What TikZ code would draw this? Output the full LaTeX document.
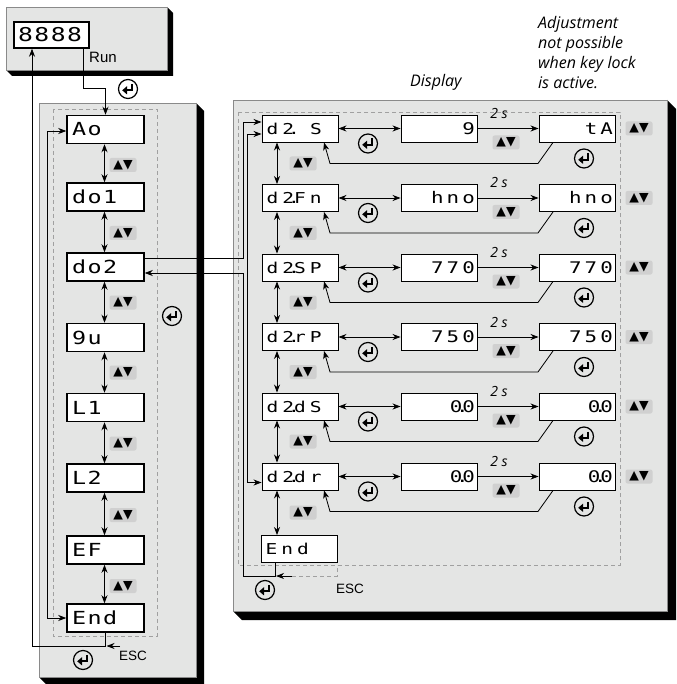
\documentclass[tikz,border=0pt]{standalone}
\usepackage{fontspec}
\usetikzlibrary{arrows.meta}
\setmainfont{Liberation Sans}
\newfontfamily\notefont{Open Sans}
\newfontfamily\symfont{DejaVu Sans}
\newfontfamily\segL[FakeStretch=1.3,LetterSpace=8]{DejaVu Sans Mono}
\newfontfamily\segR[FakeStretch=1.3,LetterSpace=20]{DejaVu Sans Mono}
\newfontfamily\segD[FakeStretch=1.3,LetterSpace=27]{DejaVu Sans Mono}
\newcommand\sdot{\makebox[0pt]{.}}
\newcommand\segsp{\hspace*{16pt}}
\definecolor{panel}{HTML}{E4E5E4}
\definecolor{panelrim}{HTML}{8A8A8A}
\definecolor{keybg}{HTML}{D0D0D0}
\definecolor{dashc}{HTML}{A0A0A0}
\tikzset{
  arr/.style={-{Stealth[length=8pt,width=6pt,inset=2.5pt]}, line width=0.8pt},
  arr2/.style={{Stealth[length=8pt,width=6pt,inset=2.5pt]}-{Stealth[length=8pt,width=6pt,inset=2.5pt]}, line width=0.8pt},
  lbox/.style={draw, line width=1.5pt, fill=white, minimum height=28pt, text width=67pt, inner xsep=5pt, inner ysep=0pt, align=left, font=\segL\fontsize{18}{18}\selectfont},
  dbox/.style={draw, line width=1.4pt, fill=white, minimum height=26pt, text width=67pt, inner xsep=4pt, inner ysep=0pt, align=left, font=\segL\fontsize{19}{19}\selectfont},
  rbox/.style={draw, line width=0.9pt, fill=white, minimum height=27pt, text width=67pt, inner xsep=4.5pt, inner ysep=0pt, align=left, font=\segD\fontsize{15}{15}\selectfont},
  vbox/.style={draw, line width=0.9pt, fill=white, minimum height=27pt, text width=72pt, inner xsep=2pt, inner ysep=0pt, align=right, font=\segR\fontsize{16}{16}\selectfont},
  keylab/.style={fill=keybg, rounded corners=2pt, minimum width=27pt, minimum height=14pt, inner sep=0pt, font=\symfont\fontsize{12.5}{12.5}\selectfont},
  twos/.style={font=\notefont\itshape\fontsize{14}{14}\selectfont, inner sep=0pt},
  note/.style={font=\notefont\itshape\fontsize{16}{20}\selectfont, inner sep=0pt},
  plain/.style={inner sep=0pt},
  dashbox/.style={draw=dashc, line width=0.7pt, dash pattern=on 4pt off 3pt},
  enterkey/.pic={
    \draw[line width=1.2pt] (0,0) circle (9.5);
    \draw[line width=2pt] (3.5,-5) -- (3.5,1.3) -- (-1.5,1.3);
    \fill (-5.8,1.3) -- (-1,-2.8) -- (-1,5.4) -- cycle;
  }
}
\begin{document}
\begin{tikzpicture}[x=1pt,y=-1pt]
\useasboundingbox (0,0) rectangle (676,684);
% ---------- panels ----------
\fill (167,7) -- (173,13) -- (173,76) -- (12,76) -- (6,70) -- (167,70) -- cycle;
\draw[panelrim, fill=panel, line width=0.6pt] (6,7) rectangle (167,70);
\fill (196,103) -- (204,111) -- (204,685) -- (47,685) -- (39,677) -- (196,677) -- cycle;
\draw[panelrim, fill=panel, line width=0.6pt] (39,103) rectangle (196,677);
\fill (667,100) -- (676,109) -- (676,620) -- (242,620) -- (233,611) -- (667,611) -- cycle;
\draw[panelrim, fill=panel, line width=0.6pt] (233,100) rectangle (667,611);
% dashed groups
\draw[dashbox] (53,109) rectangle (157,636);
\draw[dashbox] (238,112) rectangle (620,565);
\draw[dashbox] (285,576) -- (337,576) -- (337,565);
% ---------- texts at top ----------
\node[note, anchor=north west, align=left] (adj) at (538,16) {Adjustment\\not possible\\when key lock\\is active.};
\node[note, anchor=base west] (displ) at (410,87) {Display};
% ---------- top display ----------
\node[dbox] (disp) at (51.5,35) {8888};
\node[plain, anchor=base west, font=\fontsize{15}{15}\selectfont] (run) at (89,63) {Run};
% ---------- left column ----------
\foreach \nm/\yc/\tx in {ao/129.5/Ao, do1/197/do1, do2/267/do2, qu/337.5/9u, l1/407.5/L1, l2/478/L2, ef/550/EF, endL/618/End}
  {\node[lbox] (\nm) at (105.5,\yc) {\tx};}
\foreach \a/\b/\ym in {ao/do1/165, do1/do2/233, do2/qu/302.5, qu/l1/372.5, l1/l2/443.5, l2/ef/515, ef/endL/586}
  {\draw[arr2] ([xshift=-1pt]\a.south) -- ([xshift=-1pt]\b.north);
   \node[keylab] (k\a) at (123,\ym) {▲▼};}
% top connector into Ao
\coordinate (c1) at (83,88);
\draw[arr] (disp.south -| c1) -- (c1) -- (c1 -| ao.north) -- (ao.north);
\pic at (128,89) {enterkey};
\pic at (172,316) {enterkey};
% loop Ao <-> End
\coordinate (lx) at (47,0);
\draw[arr2] ([yshift=-1.5pt]ao.west) -- ([yshift=-1.5pt]ao.west -| lx) -- (endL.west -| lx) -- (endL.west);
% return to display
\coordinate (r1) at (105.5,646);
\coordinate (r2) at (32,646);
\draw[arr] (endL.south) -- (r1) -- (r2) -- (r2 |- disp.south);
\coordinate (escL) at (120,646);
\draw[arr] (escL) -- ([xshift=1pt]r1);
\node[plain, anchor=base west, font=\fontsize{13.5}{13.5}\selectfont] (esc1) at (119,660) {ESC};
\pic at (83,660) {enterkey};
% ---------- right panel rows ----------
\foreach \n/\yc/\lab/\mv/\rv in {
  1/128.5/{d2\sdot\segsp S}/9/tA,
  2/198/{d2\sdot Fn}/hno/hno,
  3/267.5/{d2\sdot SP}/770/770,
  4/337/{d2\sdot rP}/750/750,
  5/406.5/{d2\sdot dS}/{0\sdot0}/{0\sdot0},
  6/476.5/{d2\sdot dr}/{0\sdot0}/{0\sdot0}}
{
  \node[rbox] (d\n) at (300,\yc) {\lab};
  \node[vbox] (m\n) at (439,\yc) {\mv};
  \node[vbox] (v\n) at (577,\yc) {\rv};
  \draw[arr2] (d\n.east) -- (m\n.west);
  \draw[arr] (m\n.east) -- (v\n.west);
  \node[twos] (s\n) at (499,\yc-15) {2 s};
  \node[keylab] (km\n) at (506,\yc+14) {▲▼};
  \node[keylab] (kr\n) at (639,\yc) {▲▼};
  \pic at (368,\yc+15) {enterkey};
  \pic at (584,\yc+30) {enterkey};
  \draw[arr] ([xshift=-24pt]v\n.south) -- ++(-15,21) -- ++(-208,0) -- ([xshift=24pt]d\n.south);
}
\node[rbox] (endR) at (299,549) {End};
\foreach \a/\b/\ym in {d1/d2/163.5, d2/d3/233, d3/d4/302.5, d4/d5/372, d5/d6/441.5, d6/endR/512.5}
  {\draw[arr2] ([xshift=-23pt]\a.south) -- ([xshift=-23pt]\a.south |- \b.north);
   \node[keylab] (k\a) at (303,\ym) {▲▼};}
% do2 -> d2.S
\coordinate (v1x) at (243,0);
\draw[arr] ([yshift=9pt]do2.east) -- ([yshift=9pt]do2.east -| v1x) -- ([yshift=6.5pt]d1.west -| v1x) -- ([yshift=6.5pt]d1.west);
% loop d2.S <-> d2.dr
\coordinate (v3x) at (247.5,0);
\draw[arr2] ([yshift=-5.5pt]d1.west) -- ([yshift=-5.5pt]d1.west -| v3x) -- ([yshift=-6pt]d6.west -| v3x) -- ([yshift=-6pt]d6.west);
% End -> do2 (ESC)
\coordinate (b2) at (275,576);
\coordinate (b3) at (243,576);
\draw[arr] (endR.south -| b2) -- (b2) -- (b3) -- (b3 |- 0,273) -- ([yshift=-6pt]do2.east);
\coordinate (escR) at (292,576);
\draw[arr] (escR) -- ([xshift=1pt]b2);
\node[plain, anchor=base west, font=\fontsize{13.5}{13.5}\selectfont] (esc2) at (336,593) {ESC};
\pic at (265,590) {enterkey};
\end{tikzpicture}
\end{document}
